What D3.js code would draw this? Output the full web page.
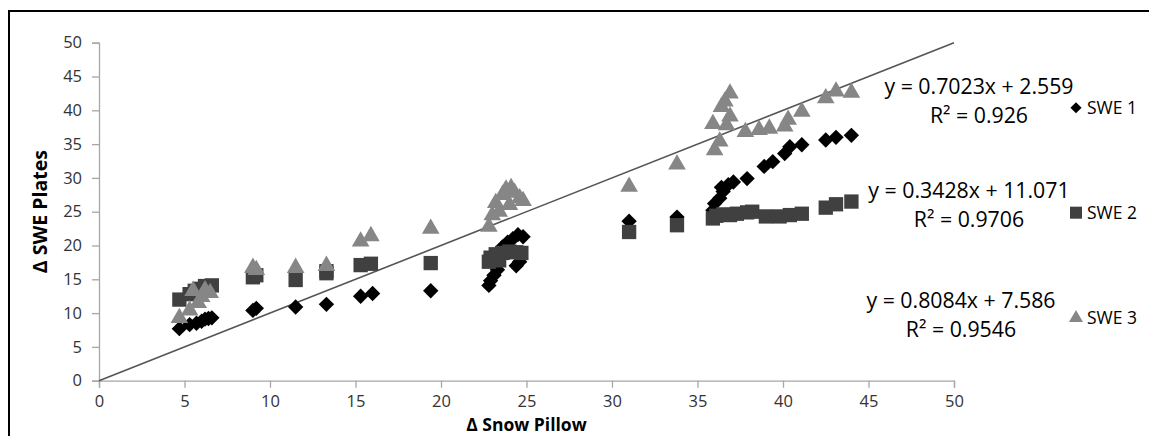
<!DOCTYPE html>
<html>
<head>
<meta charset="utf-8">
<script src="https://cdn.jsdelivr.net/npm/d3@7"></script>
<style>
  html, body { margin: 0; padding: 0; background: #fff; }
  svg { display: block; font-family: "Open Sans", "Noto Sans", sans-serif; }
</style>
</head>
<body>
<svg id="chart" width="1149" height="436"></svg>
<script>
// ---- data: [Δ Snow Pillow, Δ SWE Plates] ----
const swe1 = [
  [4.7,7.7],[5.3,8.3],[5.7,8.5],[6.0,8.8],[6.2,9.1],[6.4,9.2],[6.6,9.3],
  [9.0,10.4],[9.2,10.7],[11.5,10.9],[13.3,11.3],[15.3,12.5],[16.0,12.9],[19.4,13.3],
  [22.8,14.1],[22.9,14.8],[23.1,15.6],[23.3,16.4],[24.4,17.0],[24.6,17.6],
  [23.6,19.8],[23.9,20.5],[24.2,21.0],[24.5,21.6],[24.8,21.3],
  [31.0,23.6],[33.8,24.2],
  [35.9,25.2],[36.0,26.2],[36.3,27.0],[36.5,28.0],[36.4,28.6],[36.8,29.0],[37.1,29.4],
  [37.9,29.9],[38.9,31.7],[39.4,32.4],[40.1,33.6],[40.4,34.6],[41.1,34.9],
  [42.5,35.6],[43.1,36.0],[44.0,36.3]
];
const swe2 = [
  [4.7,12.0],[5.3,12.8],[5.6,13.3],[5.9,13.6],[6.2,14.0],[6.6,14.1],
  [9.0,15.3],[9.2,15.6],[11.5,14.9],[13.3,15.9],[13.3,16.2],[15.3,17.1],[15.9,17.3],[19.4,17.4],
  [22.8,17.6],[22.9,18.2],[23.2,18.7],[23.6,18.9],[24.0,19.1],[24.4,19.0],[24.7,18.9],[23.4,17.8],
  [31.0,22.0],[33.8,23.0],
  [35.9,24.0],[36.1,24.4],[36.5,24.6],[36.9,24.5],[37.3,24.7],[37.9,24.9],[38.2,25.0],
  [39.0,24.3],[39.8,24.3],[40.4,24.5],[41.1,24.7],[42.5,25.6],[43.1,26.1],[44.0,26.5]
];
const swe3 = [
  [4.7,9.3],[5.3,10.4],[5.5,13.3],[5.8,11.5],[6.0,12.4],[6.2,13.4],[6.5,13.0],
  [9.0,16.7],[9.2,16.4],[11.5,16.7],[13.3,17.0],[15.3,20.6],[15.9,21.4],[19.4,22.5],
  [22.8,22.8],[23.0,24.5],[23.2,26.3],[23.4,25.0],[23.6,27.5],[23.8,28.3],[24.1,28.5],
  [24.3,27.8],[24.6,27.0],[24.8,26.6],[24.0,26.0],
  [31.0,28.7],[33.8,32.0],
  [35.9,38.0],[36.0,34.1],[36.3,35.4],[36.4,40.5],[36.6,41.3],[36.9,42.5],[36.9,39.1],
  [36.7,37.8],[37.8,36.8],[38.6,37.1],[39.2,37.3],[40.1,37.6],[40.3,38.6],[41.1,39.8],
  [42.5,41.8],[43.1,42.8],[44.0,42.6]
];
const seriesNames = ["SWE 1", "SWE 2", "SWE 3"];
const equations = ["y = 0.7023x + 2.559", "y = 0.3428x + 11.071", "y = 0.8084x + 7.586"];
const rSquared = ["R\u00B2 = 0.926", "R\u00B2 = 0.9706", "R\u00B2 = 0.9546"];
const xTicks = [0, 5, 10, 15, 20, 25, 30, 35, 40, 45, 50];
const yTicks = [0, 5, 10, 15, 20, 25, 30, 35, 40, 45, 50];
const oneToOne = [[0, 0], [50, 50]];

// ---- layout ----
const svg = d3.select("#chart");
const plot = { left: 99, right: 954, top: 42.7, bottom: 380.7 };
const x = d3.scaleLinear().domain([0, 50]).range([plot.left, plot.right]);
const y = d3.scaleLinear().domain([0, 50]).range([plot.bottom, plot.top]);

// outer frame (runs past the right and bottom edges)
svg.append("rect")
  .attr("x", 9).attr("y", 11).attr("width", 1300).attr("height", 600)
  .attr("fill", "none").attr("stroke", "#000").attr("stroke-width", 2);

// axes
const axisColor = "#a6a6a6";
const gx = svg.append("g").attr("transform", `translate(0,${plot.bottom})`)
  .call(d3.axisBottom(x).tickValues(xTicks).tickSize(7).tickPadding(7).tickFormat(d3.format("d")));
const gy = svg.append("g").attr("transform", `translate(${plot.left},0)`)
  .call(d3.axisLeft(y).tickValues(yTicks).tickSize(7).tickPadding(10).tickFormat(d3.format("d")));
[gx, gy].forEach(g => {
  g.select(".domain").attr("stroke", axisColor).attr("stroke-width", 1.3);
  g.selectAll(".tick line").attr("stroke", axisColor).attr("stroke-width", 1.3);
  g.selectAll(".tick text").attr("fill", "#333").style("font-size", "16.5px")
    .style("font-family", "'Open Sans', sans-serif");
});
gx.selectAll(".tick text").attr("dy", "0.74em");

// 1:1 line
svg.append("path")
  .datum(oneToOne)
  .attr("d", d3.line().x(d => x(d[0])).y(d => y(d[1])))
  .attr("stroke", "#555").attr("stroke-width", 1.6).attr("fill", "none");

// markers
const styles = [
  { data: swe1, fill: "#000000", shape: d3.symbolSquare, size: 118, rotate: 45, legendSize: 62 },
  { data: swe2, fill: "#404040", shape: d3.symbolSquare, size: 205, rotate: 0, legendSize: 145 },
  { data: swe3, fill: "#868686", shape: d3.symbolTriangle, size: 135, rotate: 0, legendSize: 85 }
];
styles.forEach(s => {
  svg.append("g").selectAll("path")
    .data(s.data)
    .join("path")
    .attr("d", d3.symbol().type(s.shape).size(s.size))
    .attr("transform", d => `translate(${x(d[0])},${y(d[1])}) rotate(${s.rotate})`)
    .attr("fill", s.fill);
});

// trendline equations
const eqPos = [
  { cx: 979, y1: 94.3, y2: 122.7 },
  { cx: 969, y1: 198.3, y2: 226.7 },
  { cx: 961, y1: 308.3, y2: 336.7 }
];
const eqG = svg.append("g").attr("text-anchor", "middle")
  .style("font-size", "21.3px").attr("fill", "#000");
equations.forEach((eq, i) => {
  eqG.append("text").attr("x", eqPos[i].cx).attr("y", eqPos[i].y1).text(eq);
  eqG.append("text").attr("x", eqPos[i].cx).attr("y", eqPos[i].y2).text(rSquared[i]);
});

// legend
const legendY = [107.7, 212.7, 318];
const leg = svg.append("g");
seriesNames.forEach((name, i) => {
  const s = styles[i];
  leg.append("path")
    .attr("d", d3.symbol().type(s.shape).size(s.legendSize))
    .attr("transform", `translate(1076,${legendY[i]}) rotate(${s.rotate})`)
    .attr("fill", s.fill);
  leg.append("text").attr("x", 1087).attr("y", legendY[i] + 6)
    .style("font-size", "17.5px").attr("fill", "#000").text(name);
});

// axis titles
svg.append("text")
  .attr("x", (plot.left + plot.right) / 2).attr("y", 430.6)
  .attr("text-anchor", "middle")
  .style("font-size", "17.5px").style("font-weight", "bold")
  .text("\u0394 Snow Pillow");
svg.append("text")
  .attr("transform", `translate(47,${(plot.top + plot.bottom) / 2}) rotate(-90)`)
  .attr("text-anchor", "middle")
  .style("font-size", "19.5px").style("font-weight", "bold")
  .text("\u0394 SWE Plates");
</script>
</body>
</html>
